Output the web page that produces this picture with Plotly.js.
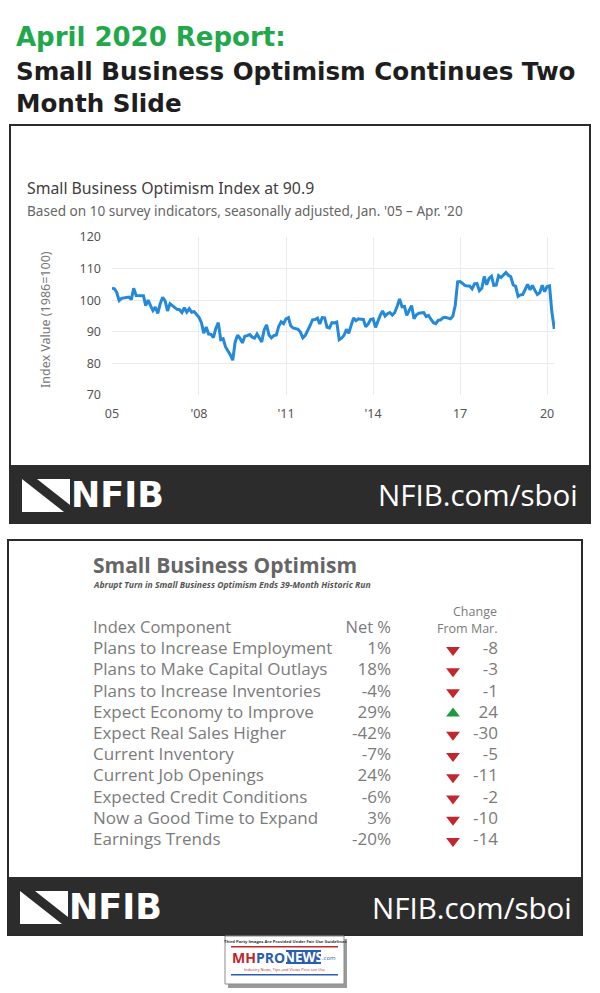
<!DOCTYPE html>
<html><head><meta charset="utf-8">
<script src="https://cdn.plot.ly/plotly-3.0.1.min.js"></script>
<style>html,body{margin:0;padding:0;background:#fff}#chart{width:600px;height:993px}</style>
</head><body><div id="chart"></div>
<script>
// ---------- DATA ----------
const startYear = 2005;
const idx2005 = [103.8, 103.6, 102.5, 99.9, 100.6, 100.8, 101.0, 101.0, 100.2, 103.8, 101.5, 101.5];
const idx2006 = [101.5, 101.4, 98.3, 100.0, 98.3, 96.7, 97.8, 95.8, 99.0, 100.9, 99.8, 96.6];
const idx2007 = [98.9, 98.3, 97.6, 97.1, 97.0, 96.1, 97.6, 96.2, 97.3, 96.2, 96.4, 95.6];
const idx2008 = [94.6, 92.9, 89.6, 91.5, 89.3, 89.2, 88.2, 91.1, 92.9, 87.5, 87.8, 85.2];
const idx2009 = [84.1, 82.6, 81.0, 86.8, 88.9, 87.9, 86.5, 88.6, 88.8, 89.1, 88.3, 88.0];
const idx2010 = [89.3, 88.0, 86.8, 90.6, 92.2, 89.0, 88.1, 88.8, 89.0, 91.7, 93.2, 92.6];
const idx2011 = [94.1, 94.5, 91.9, 91.2, 90.9, 90.8, 89.9, 88.1, 88.9, 90.2, 92.0, 93.8];
const idx2012 = [93.9, 94.3, 92.5, 94.5, 94.4, 91.4, 91.2, 92.9, 92.8, 93.1, 87.5, 88.0];
const idx2013 = [88.9, 90.8, 89.5, 92.1, 94.4, 93.5, 94.1, 94.0, 93.9, 91.6, 92.5, 93.9];
const idx2014 = [94.1, 91.4, 93.4, 95.2, 96.6, 95.0, 95.7, 96.1, 95.3, 96.1, 98.1, 100.4];
const idx2015 = [97.9, 98.0, 95.2, 96.9, 98.3, 94.1, 95.4, 95.9, 96.1, 96.1, 94.8, 95.2];
const idx2016 = [93.9, 92.9, 92.6, 93.6, 93.8, 94.5, 94.6, 94.4, 94.1, 94.9, 98.4, 105.8];
const idx2017 = [105.9, 105.3, 104.7, 104.5, 104.5, 103.6, 105.2, 105.3, 103.0, 103.8, 107.5, 104.9];
const idx2018 = [106.9, 107.6, 104.7, 104.8, 107.8, 107.2, 107.9, 108.8, 107.9, 107.4, 104.8, 104.4];
const idx2019 = [101.2, 101.7, 101.8, 103.5, 105.0, 103.3, 104.7, 103.1, 101.8, 102.4, 104.7, 102.7];
const idx2020 = [104.3, 104.5, 96.4, 90.9];
const yearlySeries = [idx2005, idx2006, idx2007, idx2008, idx2009, idx2010, idx2011, idx2012,
                      idx2013, idx2014, idx2015, idx2016, idx2017, idx2018, idx2019, idx2020];

const xTickYears = [2005, 2008, 2011, 2014, 2017, 2020];
const xTickLabels = ["05", "'08", "'11", "'14", "17", "20"];
const yTickValues = [70, 80, 90, 100, 110, 120];

const tableHeaders = ["Index Component", "Net %"];
const components = ["Plans to Increase Employment", "Plans to Make Capital Outlays",
  "Plans to Increase Inventories", "Expect Economy to Improve", "Expect Real Sales Higher",
  "Current Inventory", "Current Job Openings", "Expected Credit Conditions",
  "Now a Good Time to Expand", "Earnings Trends"];
const netPercent = [1, 18, -4, 29, -42, -7, 24, -6, 3, -20];
const changeFromMar = [-8, -3, -1, 24, -30, -5, -11, -2, -10, -14];

// ---------- BUILD ----------
const W = 600, H = 993;
const PX = x => x / W;
const PY = y => 1 - y / H;

const dates = [], values = [];
yearlySeries.forEach((arr, yi) => {
  arr.forEach((v, m) => {
    dates.push(`${startYear + yi}-${String(m + 1).padStart(2, '0')}-01`);
    values.push(v);
  });
});

const chartFont = "'Noto Sans', 'Open Sans', sans-serif";
const tableFont = "'Open Sans', sans-serif";
const headFont = "'DejaVu Sans', sans-serif";
const rows = components.map((_, i) => i);
const rowFont = { family: tableFont, size: 17, color: '#7b7b7b' };
const COL_NAME = 93, COL_NET = 391, COL_TRI = 453, COL_CHG = 498;

const traces = [
  { type: 'scatter', mode: 'lines', x: dates, y: values, xaxis: 'x', yaxis: 'y',
    line: { color: '#2389d8', width: 3 }, hoverinfo: 'x+y' },
  { type: 'scatter', mode: 'text', x: [COL_NAME, COL_NET], y: [-1, -1], xaxis: 'x2', yaxis: 'y2',
    text: tableHeaders, textposition: ['middle right', 'middle left'], cliponaxis: false,
    textfont: { family: tableFont, size: 16.5, color: '#7b7b7b' } },
  { type: 'scatter', mode: 'text', x: rows.map(() => COL_NAME), y: rows, xaxis: 'x2', yaxis: 'y2',
    text: components, textposition: 'middle right', cliponaxis: false, textfont: rowFont },
  { type: 'scatter', mode: 'text', x: rows.map(() => COL_NET), y: rows, xaxis: 'x2', yaxis: 'y2',
    text: netPercent.map(v => v + '%'), textposition: 'middle left', cliponaxis: false, textfont: rowFont },
  { type: 'scatter', mode: 'markers', x: rows.map(() => COL_TRI), y: rows, xaxis: 'x2', yaxis: 'y2',
    marker: { symbol: changeFromMar.map(v => v < 0 ? 'triangle-down' : 'triangle-up'),
              color: changeFromMar.map(v => v < 0 ? '#c1272d' : '#1e9a3e'), size: 12, line: { width: 0 } },
    cliponaxis: false },
  { type: 'scatter', mode: 'text', x: rows.map(() => COL_CHG), y: rows, xaxis: 'x2', yaxis: 'y2',
    text: changeFromMar.map(v => String(v)), textposition: 'middle left', cliponaxis: false, textfont: rowFont }
];

function ann(text, x, y, o = {}) {
  return Object.assign({ text, x: PX(x), y: PY(y), xref: 'paper', yref: 'paper',
    xanchor: 'left', yanchor: 'middle', showarrow: false, borderpad: 0,
    font: { family: chartFont, size: 12, color: '#444' } }, o);
}
function rect(x0, y0, x1, y1, fill, line, lw) {
  return { type: 'rect', xref: 'paper', yref: 'paper', x0: PX(x0), x1: PX(x1), y0: PY(y1), y1: PY(y0),
    fillcolor: fill, line: { color: line || fill, width: lw === undefined ? 0 : lw }, layer: 'below' };
}
function poly(pts, fill) {
  const d = pts.map((p, i) => (i ? 'L' : 'M') + PX(p[0]).toFixed(5) + ',' + PY(p[1]).toFixed(5)).join(' ') + ' Z';
  return { type: 'path', xref: 'paper', yref: 'paper', path: d, fillcolor: fill, line: { width: 0 }, layer: 'above' };
}
function logo(x, y) { // top-left of mark
  return [
    poly([[x, y], [x + 42, y + 33], [x, y + 33]], '#ffffff'),
    poly([[x + 15, y], [x + 48, y], [x + 48, y + 26]], '#ffffff')
  ];
}

const shapes = [
  rect(10, 125, 590, 523, '#ffffff', '#2a2a2a', 2),
  rect(10, 465, 590, 523, '#2c2c2c'),
  rect(8, 540, 582, 935, '#ffffff', '#2a2a2a', 2),
  rect(8, 877, 582, 935, '#2c2c2c'),
  ...logo(22, 479),
  ...logo(20, 891),
  // MHPRONEWS badge
  rect(228, 939, 347, 988, '#9a9a9a'),
  rect(225, 936, 344, 984, '#ffffff', '#8a8a8a', 1),
  rect(231, 946, 338, 947.5, '#c0272d'),
  rect(286, 950, 321, 964, '#2a5db0'),
  rect(231, 974, 338, 975.5, '#2a5db0')
];

const annotations = [
  ann('<b>April 2020 Report:</b>', 15, 37, { font: { family: headFont, size: 26, color: '#22a84b' } }),
  ann('<b>Small Business Optimism Continues Two</b>', 15, 71, { font: { family: headFont, size: 24.6, color: '#1e1e1e' } }),
  ann('<b>Month Slide</b>', 15, 103, { font: { family: headFont, size: 24.6, color: '#1e1e1e' } }),

  ann('Small Business Optimism Index at 90.9', 26, 188, { font: { family: chartFont, size: 15.8, color: '#404040' } }),
  ann("Based on 10 survey indicators, seasonally adjusted, Jan. '05 – Apr. '20", 26, 210, { font: { family: chartFont, size: 13.6, color: '#666' } }),
  ann('Index Value (1986=100)', 45, 320, { xanchor: 'center', textangle: -90, font: { family: chartFont, size: 12.5, color: '#777' } }),

  ann('<b>NFIB</b>', 70, 495, { font: { family: headFont, size: 35, color: '#ffffff' } }),
  ann('NFIB.com/sboi', 579, 495, { xanchor: 'right', font: { family: tableFont, size: 29.5, color: '#ffffff' } }),
  ann('<b>NFIB</b>', 68, 907, { font: { family: headFont, size: 35, color: '#ffffff' } }),
  ann('NFIB.com/sboi', 573, 907, { xanchor: 'right', font: { family: tableFont, size: 29.5, color: '#ffffff' } }),

  ann('<b>Small Business Optimism</b>', 92, 565, { font: { family: tableFont, size: 21, color: '#666' } }),
  ann('<b><i>Abrupt Turn in Small Business Optimism Ends 39-Month Historic Run</i></b>', 92, 585, { font: { family: tableFont, size: 8.6, color: '#555' } }),
  ann('Change', COL_CHG, 611.5, { xanchor: 'right', font: { family: tableFont, size: 12.5, color: '#7b7b7b' } }),
  ann('From Mar.', COL_CHG, 628, { xanchor: 'right', font: { family: tableFont, size: 12.5, color: '#7b7b7b' } }),

  // badge
  ann('<b>Third Party Images Are Provided Under Fair Use Guidelines</b>', 284.5, 941.5, { xanchor: 'center', font: { family: tableFont, size: 4.2, color: '#333' } }),
  ann('<b><span style="color:#c0272d">MH</span><span style="color:#2a5db0">PRO</span></b>', 286, 957, { xanchor: 'right', font: { family: tableFont, size: 14, color: '#c0272d' } }),
  ann('<b>NEWS</b>', 303.5, 957, { xanchor: 'center', font: { family: tableFont, size: 13.5, color: '#ffffff' } }),
  ann('.com', 321, 958, { font: { family: tableFont, size: 6, color: '#2a5db0' } }),
  ann('Industry News, Tips and Views Pros can Use', 284.5, 969, { xanchor: 'center', font: { family: tableFont, size: 4, color: '#c0272d' } })
];

const layout = {
  width: W, height: H, margin: { l: 0, r: 0, t: 0, b: 0 },
  paper_bgcolor: '#ffffff', plot_bgcolor: 'rgba(0,0,0,0)', showlegend: false,
  xaxis: { type: 'date', domain: [PX(112), PX(555)], range: ['2005-01-01', '2020-04-10'],
    tickmode: 'array', tickvals: xTickYears.map(y => `${y}-01-01`), ticktext: xTickLabels,
    showgrid: true, gridcolor: '#ebebeb', gridwidth: 1, zeroline: false, showline: false, ticks: '',
    ticklabelstandoff: 9, tickfont: { family: chartFont, size: 12.5, color: '#555' }, fixedrange: true },
  yaxis: { domain: [PY(395), PY(237)], range: [70, 120], tickmode: 'array', tickvals: yTickValues,
    showgrid: true, gridcolor: '#ebebeb', zeroline: false, showline: false, ticks: '',
    ticklabelstandoff: 10, tickfont: { family: chartFont, size: 12.5, color: '#555' }, fixedrange: true },
  xaxis2: { domain: [0, 1], range: [0, W], visible: false, anchor: 'y2', fixedrange: true },
  yaxis2: { domain: [PY(851.5), PY(618.1)], range: [9.5, -1.5], visible: false, anchor: 'x2', fixedrange: true },
  shapes, annotations
};

Plotly.newPlot('chart', traces, layout, { displayModeBar: false, staticPlot: true });
</script></body></html>
